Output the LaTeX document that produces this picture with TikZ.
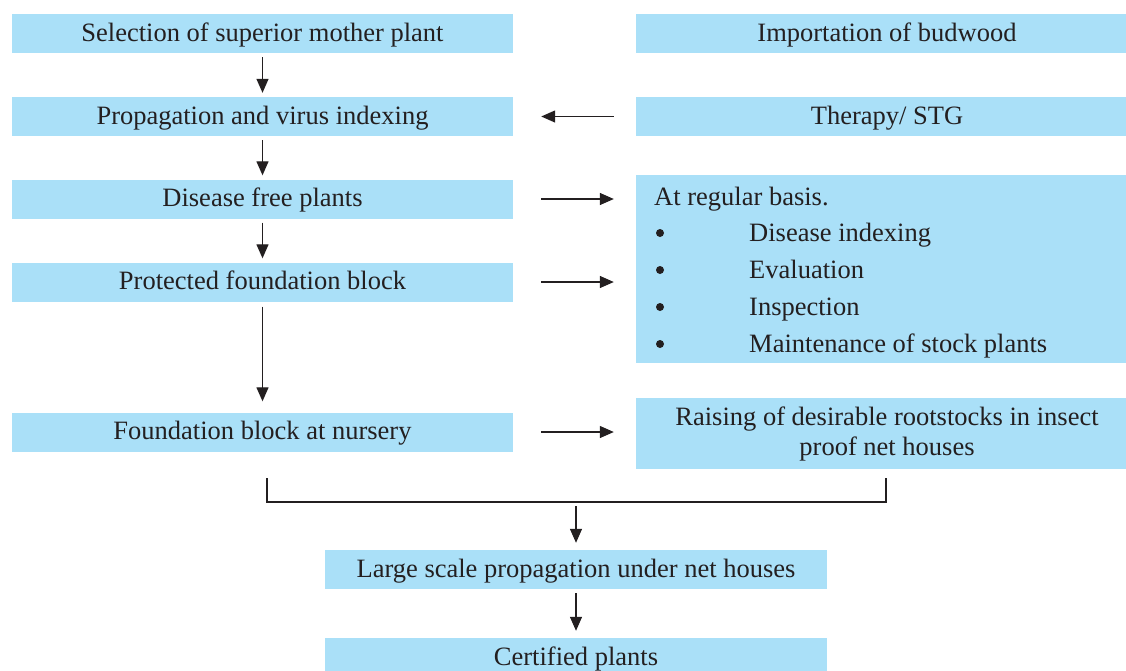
\documentclass[tikz,border=0pt]{standalone}
\usepackage{fontspec}
\setmainfont{Liberation Serif}
\usetikzlibrary{arrows.meta}
\definecolor{boxblue}{RGB}{170,224,248}
\definecolor{ink}{RGB}{35,31,32}
\begin{document}
\begin{tikzpicture}[x=1pt,y=-1pt,
  box/.style={fill=boxblue, inner sep=0pt, text height=18pt, text depth=3pt, text=ink,
              font=\fontsize{26.5}{37}\selectfont},
  leftbox/.style={box, minimum width=501pt, minimum height=39pt},
  rightbox/.style={box, minimum width=502pt, minimum height=39pt},
  arr/.style={draw=ink, line width=1.3pt, -{Triangle[length=14pt,width=12pt]}},
  ln/.style={draw=ink, line width=1.3pt},
  txt/.style={inner sep=0pt, anchor=base west, text=ink, font=\fontsize{26.5}{37}\selectfont},
  dot/.style={circle, fill=ink, inner sep=0pt, minimum size=8pt}
]
\useasboundingbox (0,0) rectangle (1126,670);

% left column
\node[leftbox] (sel)  at (262.5,33.5) {Selection of superior mother plant};
\node[leftbox] (prop) at (262.5,116.5) {Propagation and virus indexing};
\node[leftbox] (dfp)  at (262.5,199) {Disease free plants};
\node[leftbox] (pfb)  at (262.5,282) {Protected foundation block};
\node[leftbox] (fbn)  at (262.5,432) {Foundation block at nursery};

% right column
\node[rightbox] (imp)  at (887,33.5) {Importation of budwood};
\node[rightbox] (ther) at (887,116.5) {Therapy/ STG};
\node[fill=boxblue, inner sep=0pt, minimum width=502pt, minimum height=188pt] (reg) at (887,269) {};
\node[fill=boxblue, inner sep=0pt, minimum width=502pt, minimum height=71pt, align=center, text=ink,
      font=\fontsize{26.5}{30}\selectfont] (rais) at (887,433.5)
      {Raising of desirable rootstocks in insect\\proof net houses};

% list in the big box
\node[txt] (t0) at (654,205) {At regular basis.};
\node[dot] (b1) at (660,233) {};
\node[dot] (b2) at (660,270) {};
\node[dot] (b3) at (660,307) {};
\node[dot] (b4) at (660,344) {};
\node[txt] (t1) at (749,241) {Disease indexing};
\node[txt] (t2) at (749,278) {Evaluation};
\node[txt] (t3) at (749,315) {Inspection};
\node[txt] (t4) at (749,352) {Maintenance of stock plants};

% bottom
\node[box, minimum width=502pt, minimum height=39pt] (lsp)  at (576,569.5) {Large scale propagation under net houses};
\node[box, minimum width=502pt, minimum height=39pt] (cert) at (576,657.5) {Certified plants};

% vertical arrows
\draw[arr, shorten <=4pt, shorten >=4pt] (sel) -- (prop);
\draw[arr, shorten <=4pt, shorten >=4pt] (prop) -- (dfp);
\draw[arr, shorten <=4pt, shorten >=4pt] (dfp) -- (pfb);
\draw[arr, shorten <=5pt, shorten >=11pt] (pfb) -- (fbn);

% horizontal arrows
\draw[arr, shorten <=22pt, shorten >=28pt] (ther.west) -- (prop.east);
\draw[arr, shorten <=28pt, shorten >=22pt] (dfp.east) -- (dfp.east -| reg.west);
\draw[arr, shorten <=28pt, shorten >=22pt] (pfb.east) -- (pfb.east -| reg.west);
\draw[arr, shorten <=28pt, shorten >=22pt] (fbn.east) -- (fbn.east -| rais.west);

% bracket
\coordinate (bl) at (267,478);
\coordinate (br) at (886,478);
\coordinate (bm) at (576,502);
\draw[ln] (bl) -- ++(0,24) -| (br);
\draw[arr, shorten <=4pt, shorten >=7pt] (bm) -- (lsp.north);
\draw[arr, shorten <=4pt, shorten >=7pt] (lsp) -- (cert);
\end{tikzpicture}
\end{document}
